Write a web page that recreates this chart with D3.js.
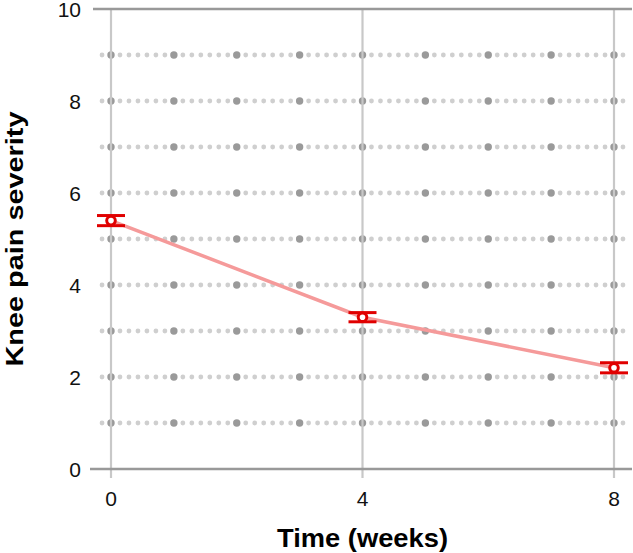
<!doctype html>
<html lang="en">
<head>
    <meta charset="UTF-8" />
    <title>Knee pain severity</title>
    <script src="https://d3js.org/d3.v7.min.js"></script>
    <style>
        body, html {
            margin: 0;
            padding: 0;
            background: #fff;
            overflow: hidden;
        }
        svg {
            display: block;
            font-family: "Liberation Sans", Arial, sans-serif;
        }
    </style>
</head>
<body>
    <svg id="chart" width="633" height="553"></svg>
    <script>
        // data
        const weeks = [0, 4, 8];
        const severity = [5.4, 3.3, 2.2];
        const errors = [0.11, 0.1, 0.11];
        const yTicks = [0, 2, 4, 6, 8, 10];
        const xTicks = [0, 4, 8];
        const dotRows = [1, 2, 3, 4, 5, 6, 7, 8, 9];

        const svg = d3.select("#chart");
        const x = d3.scaleLinear().domain([0, 8]).range([111, 614]);
        const y = d3.scaleLinear().domain([0, 10]).range([469, 9]);

        // dotted background rows
        const step = 1 / 7;
        const dotXs = d3.range(-1, 8 * 7 + 2).map(i => i * step);
        dotRows.forEach(r => {
            svg.append("g").selectAll("circle")
                .data(dotXs)
                .join("circle")
                .attr("cx", d => x(d))
                .attr("cy", y(r))
                .attr("r", (d, i) => ((i - 1) % 7 === 0) ? 3.7 : 2.4)
                .attr("fill", (d, i) => ((i - 1) % 7 === 0) ? "#9a9a9a" : "#cfcfcf");
        });

        // vertical grid lines
        svg.append("g").selectAll("line")
            .data(xTicks)
            .join("line")
            .attr("x1", d => x(d)).attr("x2", d => x(d))
            .attr("y1", y(10)).attr("y2", 478)
            .attr("stroke", "#c8c8c8")
            .attr("stroke-width", 2.2);

        // top and bottom frame lines
        svg.append("line")
            .attr("x1", 93).attr("x2", 632)
            .attr("y1", y(10)).attr("y2", y(10))
            .attr("stroke", "#999").attr("stroke-width", 2.5);
        svg.append("line")
            .attr("x1", 90).attr("x2", 632)
            .attr("y1", y(0)).attr("y2", y(0))
            .attr("stroke", "#999").attr("stroke-width", 2.5);

        // tick labels
        svg.append("g").selectAll("text")
            .data(yTicks)
            .join("text")
            .attr("x", 81)
            .attr("y", d => y(d))
            .attr("dy", "0.36em")
            .attr("text-anchor", "end")
            .attr("font-size", 21)
            .attr("fill", "#111")
            .text(d => d);

        svg.append("g").selectAll("text")
            .data(xTicks)
            .join("text")
            .attr("x", d => x(d))
            .attr("y", 505.5)
            .attr("text-anchor", "middle")
            .attr("font-size", 21)
            .attr("fill", "#111")
            .text(d => d);

        // axis titles
        svg.append("text")
            .attr("x", x(4))
            .attr("y", 546.5)
            .attr("text-anchor", "middle")
            .attr("font-size", 25)
            .attr("font-weight", "bold")
            .attr("textLength", 171)
            .attr("lengthAdjust", "spacingAndGlyphs")
            .text("Time (weeks)");

        svg.append("text")
            .attr("transform", "translate(22.5, 239) rotate(-90)")
            .attr("text-anchor", "middle")
            .attr("font-size", 23)
            .attr("font-weight", "bold")
            .attr("textLength", 255)
            .attr("lengthAdjust", "spacingAndGlyphs")
            .text("Knee pain severity");

        // series line
        const pts = weeks.map((w, i) => ({ w, v: severity[i], e: errors[i] }));
        svg.append("path")
            .datum(pts)
            .attr("d", d3.line().x(d => x(d.w)).y(d => y(d.v)))
            .attr("fill", "none")
            .attr("stroke", "#f59a9a")
            .attr("stroke-width", 3.5);

        // error bars and markers
        const eb = svg.append("g").selectAll("g")
            .data(pts)
            .join("g");
        eb.append("line")
            .attr("x1", d => x(d.w) - 14).attr("x2", d => x(d.w) + 14)
            .attr("y1", d => y(d.v + d.e)).attr("y2", d => y(d.v + d.e))
            .attr("stroke", "#e00000").attr("stroke-width", 3);
        eb.append("line")
            .attr("x1", d => x(d.w) - 14).attr("x2", d => x(d.w) + 14)
            .attr("y1", d => y(d.v - d.e)).attr("y2", d => y(d.v - d.e))
            .attr("stroke", "#e00000").attr("stroke-width", 3);
        eb.append("line")
            .attr("x1", d => x(d.w)).attr("x2", d => x(d.w))
            .attr("y1", d => y(d.v + d.e)).attr("y2", d => y(d.v - d.e))
            .attr("stroke", "#e00000").attr("stroke-width", 3);
        eb.append("circle")
            .attr("cx", d => x(d.w))
            .attr("cy", d => y(d.v))
            .attr("r", 4.3)
            .attr("fill", "#fff")
            .attr("stroke", "#e00000")
            .attr("stroke-width", 3);
    </script>
</body>
</html>
